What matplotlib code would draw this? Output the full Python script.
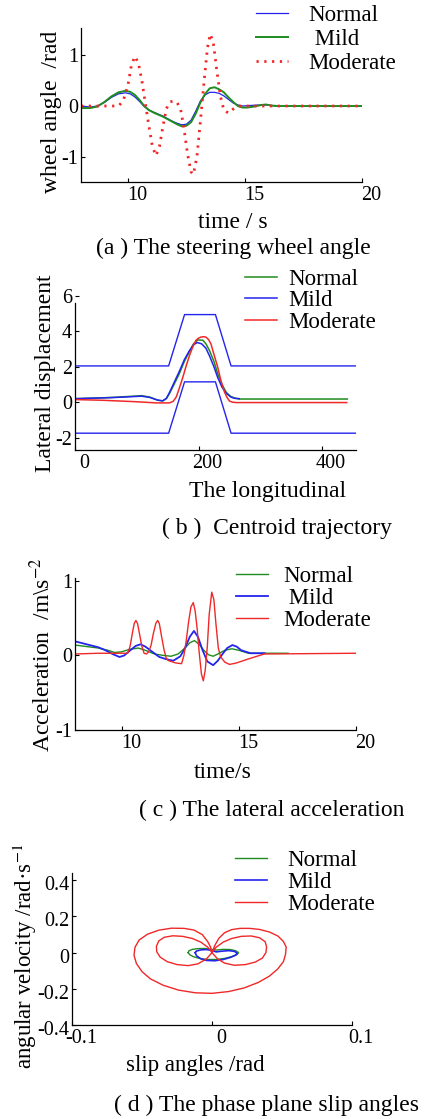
import matplotlib
matplotlib.use('Agg')
import matplotlib.pyplot as plt
from matplotlib.transforms import ScaledTranslation

# ---------------- data ----------------
# (a) steering wheel angle
a_t_normal = [8.0, 8.4, 8.7, 9.0, 9.3, 9.6, 9.9, 10.1, 10.3, 10.5, 10.7, 10.9, 11.1, 11.3, 11.5, 11.7,
              11.9, 12.1, 12.3, 12.5, 12.7, 12.9, 13.1, 13.3, 13.5, 13.7, 13.9, 14.1, 14.3, 14.5, 14.7,
              14.9, 15.2, 15.6, 16.0, 16.3]
a_normal = [0.0, -0.02, 0.0, 0.07, 0.17, 0.24, 0.26, 0.24, 0.18, 0.09, -0.01, -0.08, -0.12, -0.16, -0.2,
            -0.25, -0.3, -0.34, -0.37, -0.36, -0.28, -0.1, 0.1, 0.22, 0.27, 0.27, 0.25, 0.2, 0.13, 0.06,
            0.02, 0.0, 0.01, 0.02, 0.02, 0.0]
a_t_mild = [8.0, 8.4, 8.7, 9.0, 9.3, 9.6, 9.9, 10.1, 10.3, 10.5, 10.7, 10.9, 11.1, 11.3, 11.5, 11.7, 11.9,
            12.1, 12.3, 12.5, 12.7, 12.9, 13.1, 13.3, 13.5, 13.7, 13.9, 14.1, 14.3, 14.5, 14.7, 14.9, 15.1,
            15.4, 15.7, 15.9, 16.1, 16.4, 20.0]
a_mild = [-0.04, -0.04, -0.01, 0.08, 0.19, 0.27, 0.30, 0.28, 0.22, 0.12, 0.0, -0.08, -0.13, -0.17, -0.21,
          -0.26, -0.31, -0.36, -0.40, -0.39, -0.32, -0.15, 0.07, 0.24, 0.35, 0.37, 0.33, 0.27, 0.17, 0.08,
          0.0, -0.03, -0.03, -0.01, 0.02, 0.03, 0.01, 0.0, 0.0]
a_t_moderate = [8.0, 9.0, 9.6, 9.8, 10.0, 10.15, 10.3, 10.45, 10.6, 10.75, 10.9, 11.05, 11.2, 11.35, 11.5,
                11.65, 11.8, 11.95, 12.1, 12.25, 12.4, 12.55, 12.7, 12.8, 12.95, 13.1, 13.25, 13.4, 13.52,
                13.65, 13.8, 13.95, 14.1, 14.3, 14.5, 14.7, 20.0]
a_moderate = [0.0, 0.0, 0.0, 0.1, 0.4, 0.8, 0.98, 0.85, 0.5, 0.05, -0.4, -0.8, -0.98, -0.8, -0.4, -0.05,
              0.08, 0.1, 0.07, -0.05, -0.45, -0.95, -1.3, -1.35, -1.0, -0.3, 0.45, 1.15, 1.42, 1.25, 0.7,
              0.2, -0.08, -0.14, -0.06, 0.0, 0.0]

# (b) centroid trajectory
b_road_x = [0, 151.6, 177.4, 227.4, 252.7, 455]
b_road_upper = [2.05, 2.05, 4.95, 4.95, 2.05, 2.05]
b_road_lower = [-1.75, -1.75, 1.15, 1.15, -1.75, -1.75]
b_x_normal = [0, 30, 60, 90, 108, 121, 134, 142, 148, 153, 161, 169, 177, 185, 192, 199, 207, 212, 218,
              225, 231, 238, 245, 252, 258, 266, 441]
b_normal = [0.2, 0.23, 0.27, 0.33, 0.37, 0.29, 0.11, 0.07, 0.2, 0.49, 1.05, 1.62, 2.3, 2.84, 3.3, 3.52,
            3.5, 3.3, 2.9, 2.3, 1.62, 1.0, 0.55, 0.33, 0.24, 0.18, 0.18]
b_x_mild = [0, 60, 108, 121, 134, 142, 148, 153, 161, 169, 177, 185, 192, 198, 205, 212, 218, 225, 231,
            238, 245, 252, 258, 266]
b_mild = [0.2, 0.26, 0.34, 0.27, 0.12, 0.08, 0.22, 0.55, 1.15, 1.75, 2.4, 2.9, 3.25, 3.37, 3.3, 3.05,
          2.6, 2.0, 1.4, 0.85, 0.5, 0.3, 0.22, 0.2]
b_x_moderate = [0, 44, 97, 132, 153, 159, 164, 169, 174.7, 180, 185.5, 191, 196, 200, 204, 208, 212, 216,
                220, 225, 231, 236, 242, 246, 250, 255, 261, 440]
b_moderate = [0.15, 0.11, 0.03, -0.04, -0.04, 0.05, 0.3, 0.8, 1.42, 2.05, 2.65, 3.15, 3.5, 3.62, 3.68,
              3.7, 3.68, 3.55, 3.31, 2.7, 1.99, 1.25, 0.58, 0.28, 0.07, 0.0, -0.02, -0.02]

# (c) lateral acceleration
c_t_normal = [8.0, 8.5, 9.0, 9.4, 9.7, 10.0, 10.3, 10.7, 11.0, 11.4, 11.8, 12.1, 12.4, 12.7, 12.9, 13.1,
              13.3, 13.5, 13.7, 13.9, 14.1, 14.4, 14.7, 15.0, 15.4, 16.0, 17.1]
c_normal = [0.14, 0.12, 0.10, 0.07, 0.04, 0.05, 0.08, 0.10, 0.07, 0.02, 0.0, -0.01, 0.02, 0.1, 0.17, 0.2,
            0.15, 0.07, 0.01, -0.01, 0.02, 0.07, 0.09, 0.07, 0.03, 0.03, 0.03]
c_t_mild = [8.0, 8.5, 9.0, 9.3, 9.6, 9.9, 10.1, 10.4, 10.6, 10.8, 11.0, 11.3, 11.6, 11.9, 12.2, 12.5, 12.7,
            12.9, 13.08, 13.25, 13.45, 13.65, 13.9, 14.1, 14.3, 14.5, 14.72, 14.9, 15.1, 15.5, 16.1]
c_mild = [0.19, 0.15, 0.11, 0.07, 0.02, -0.02, 0.0, 0.08, 0.13, 0.15, 0.12, 0.05, -0.02, -0.05, -0.07,
          -0.01, 0.1, 0.25, 0.33, 0.25, 0.07, -0.08, -0.13, -0.07, 0.02, 0.1, 0.14, 0.12, 0.07, 0.03, 0.03]
c_t_moderate = [8.0, 9.0, 10.25, 10.35, 10.45, 10.53, 10.6, 10.67, 10.75, 10.85, 10.95, 11.05, 11.15, 11.25,
                11.35, 11.45, 11.53, 11.6, 11.7, 11.8, 11.9, 12.0, 12.3, 12.55, 12.65, 12.75, 12.85, 12.95,
                13.05, 13.13, 13.22, 13.3, 13.4, 13.48, 13.56, 13.65, 13.73, 13.84, 13.93, 14.02, 14.12,
                14.22, 14.4, 14.6, 14.9, 15.37, 16.08, 20.0]
c_moderate = [0.02, 0.03, 0.03, 0.12, 0.3, 0.43, 0.47, 0.43, 0.3, 0.13, 0.03, 0.02, 0.05, 0.14, 0.3, 0.43,
              0.47, 0.43, 0.25, 0.08, -0.04, -0.07, -0.1, -0.11, 0.0, 0.2, 0.45, 0.65, 0.71, 0.6, 0.35,
              0.05, -0.25, -0.34, -0.2, 0.12, 0.55, 0.85, 0.75, 0.42, 0.1, -0.02, -0.09, -0.12, -0.1,
              -0.05, 0.02, 0.03]

# (d) phase plane
d_slip_normal = [-0.017, -0.0165, -0.014, -0.01, -0.005, -0.001, 0.003, 0.008, 0.013, 0.017, 0.019,
                 0.018, 0.014, 0.009, 0.003, -0.003, -0.009, -0.0135, -0.016, -0.017]
d_rate_normal = [0.0, 0.01, 0.018, 0.022, 0.023, 0.018, 0.014, 0.018, 0.017, 0.01, 0.0,
                 -0.01, -0.022, -0.032, -0.038, -0.038, -0.032, -0.022, -0.011, 0.0]
d_slip_mild = [-0.012, -0.011, -0.008, -0.004, 0.0, 0.003, 0.007, 0.012, 0.016, 0.018, 0.017, 0.013,
               0.008, 0.002, -0.004, -0.008, -0.011, -0.012]
d_rate_mild = [0.0, 0.009, 0.015, 0.017, 0.012, 0.004, 0.008, 0.011, 0.007, -0.003, -0.014, -0.027,
               -0.038, -0.045, -0.043, -0.034, -0.018, 0.0]
d_slip_moderate = [0.0, 0.002, 0.005, 0.009, 0.014, 0.02, 0.027, 0.034, 0.041, 0.047, 0.051, 0.053,
                   0.0525, 0.051, 0.047, 0.041, 0.033, 0.023, 0.012, 0.0, -0.012, -0.024, -0.035,
                   -0.044, -0.05, -0.054, -0.0557, -0.055, -0.052, -0.046, -0.038, -0.029, -0.02,
                   -0.013, -0.007, -0.003, -0.001, 0.0,
                   -0.003, -0.008, -0.014, -0.021, -0.028, -0.034, -0.038, -0.0397, -0.0395, -0.037,
                   -0.032, -0.025, -0.017, -0.01, -0.004, 0.0,
                   0.003, 0.008, 0.014, 0.021, 0.028, 0.034, 0.038, 0.039, 0.0385, 0.036, 0.031,
                   0.024, 0.016, 0.009, 0.004, 0.0]
d_rate_moderate = [0.0, 0.04, 0.08, 0.11, 0.127, 0.134, 0.134, 0.128, 0.114, 0.092, 0.062, 0.03,
                   -0.01, -0.05, -0.09, -0.13, -0.165, -0.195, -0.215, -0.225, -0.222, -0.207, -0.18,
                   -0.145, -0.105, -0.06, -0.015, 0.03, 0.07, 0.102, 0.124, 0.135, 0.134,
                   0.125, 0.1, 0.06, 0.03, 0.0,
                   0.03, 0.058, 0.078, 0.09, 0.093, 0.085, 0.065, 0.035, 0.005, -0.025,
                   -0.05, -0.066, -0.072, -0.062, -0.035, 0.0,
                   0.03, 0.058, 0.078, 0.09, 0.092, 0.082, 0.06, 0.03, 0.0, -0.03, -0.052,
                   -0.066, -0.07, -0.058, -0.035, 0.0]

BLUE = '#2424ee'
GREEN = '#1e8c1e'
RED = '#f02828'

# ---------------- figure ----------------
W, H = 429, 1119
plt.rcParams['font.family'] = ['Liberation Serif', 'DejaVu Serif']
plt.rcParams['mathtext.fontset'] = 'stix'
plt.rcParams['axes.unicode_minus'] = False

fig = plt.figure(figsize=(W / 100, H / 100), dpi=100)


def add_ax(box):
    l, t, r, b = box
    return fig.add_axes([l / W, 1 - b / H, (r - l) / W, (b - t) / H])


def style(ax, xlim, ylim, xt, xtl, yt, ytl, xdx=9, ydy=0):
    ax.set_xlim(xlim)
    ax.set_ylim(ylim)
    ax.set_xticks(xt)
    ax.set_xticklabels(xtl)
    ax.set_yticks(yt)
    ax.set_yticklabels(ytl)
    for s in ['top', 'right']:
        ax.spines[s].set_visible(False)
    for s in ['left', 'bottom']:
        ax.spines[s].set_linewidth(0.9)
    ax.tick_params(direction='in', length=3, width=0.8, labelsize=14.5, pad=2)
    ax.tick_params(axis='x', pad=3)
    off = ScaledTranslation(xdx / 100, 0, fig.dpi_scale_trans)
    for lb in ax.get_xticklabels():
        lb.set_transform(lb.get_transform() + off)
    if ydy:
        offy = ScaledTranslation(0, -ydy / 100, fig.dpi_scale_trans)
        for lb in ax.get_yticklabels():
            lb.set_transform(lb.get_transform() + offy)
    ax.patch.set_alpha(0)


def labels(ax, box, xl, xc, yl, yc, size=17):
    l, t, r, b = box
    ax.set_xlabel(xl, fontsize=size)
    ax.xaxis.set_label_coords((xc[0] - l) / (r - l), (b - xc[1]) / (b - t))
    ax.xaxis.label.set_va('center')
    ax.set_ylabel(yl, fontsize=size)
    ax.yaxis.set_label_coords((yc[0] - l) / (r - l), (b - yc[1]) / (b - t))
    ax.yaxis.label.set_va('center')
    ax.yaxis.label.set_ha('center')


def legend(ax, handles, names, x, ytop, textpad, spacing):
    ax.legend(handles, names, loc='upper left', bbox_to_anchor=(x / W, 1 - ytop / H),
              bbox_transform=fig.transFigure, frameon=False, borderpad=0, borderaxespad=0,
              handlelength=1.4, handletextpad=textpad, labelspacing=spacing, fontsize=16.5)


def title(text, cx, cy):
    fig.text(cx / W, 1 - cy / H, text, ha='center', va='center', fontsize=17)


# (a)
box_a = (81, 28, 362, 182)
ax = add_ax(box_a)
la1, = ax.plot(a_t_normal, a_normal, color=BLUE, lw=0.9)
la2, = ax.plot(a_t_mild, a_mild, color=GREEN, lw=1.4)
la3, = ax.plot(a_t_moderate, a_moderate, color=RED, lw=2.0, ls=(0, (0.8, 2.0)))
style(ax, (8, 20), (-1.5, 1.54), [10, 15, 20], ['10', '15', '20'], [-1, 0, 1], ['-1', '0', '1'])
labels(ax, box_a, 'time / s', (233, 222), 'wheel angle  /rad', (52, 112))
legend(ax, [la1, la2, la3], ['Normal', ' Mild', 'Moderate'], 256, 5, 0.9, 0.13)
title('(a ) The steering wheel angle', 233, 248)

# (b)
box_b = (75, 296, 356, 450)
ax = add_ax(box_b)
ax.plot(b_road_x, b_road_upper, color=BLUE, lw=1.0)
ax.plot(b_road_x, b_road_lower, color=BLUE, lw=1.0)
lb1, = ax.plot(b_x_normal, b_normal, color=GREEN, lw=1.1)
lb2, = ax.plot(b_x_mild, b_mild, color=BLUE, lw=1.1)
lb3, = ax.plot(b_x_moderate, b_moderate, color=RED, lw=1.1)
style(ax, (0, 455), (-2.7, 6.0), [0, 200, 400], ['0', '200', '400'],
      [-2, 0, 2, 4, 6], ['-2', '0', '2', '4', '6'])
ax.spines['left'].set_bounds(-2.7, 5.6)
labels(ax, box_b, 'The longitudinal', (268, 492), 'Lateral displacement', (46, 373))
legend(ax, [lb1, lb2, lb3], ['Normal', 'Mild', 'Moderate'], 245, 268.5, 0.5, 0.02)
title('( b )  Centroid trajectory', 277, 528)

# (c)
box_c = (75, 578, 356, 730)
ax = add_ax(box_c)
lc1, = ax.plot(c_t_normal, c_normal, color=GREEN, lw=1.0)
lc2, = ax.plot(c_t_mild, c_mild, color=BLUE, lw=1.3)
lc3, = ax.plot(c_t_moderate, c_moderate, color=RED, lw=1.0)
style(ax, (8, 20), (-1.0, 1.04), [10, 15, 20], ['10', '15', '20'], [-1, 0, 1], ['-1', '0', '1'])
labels(ax, box_c, 'time/s', (223, 772), 'Acceleration  /m\\s$^{-2}$', (42, 655))
legend(ax, [lc1, lc2, lc3], ['Normal', ' Mild', 'Moderate'], 236, 566, 0.65, 0.04)
title('( c ) The lateral acceleration', 272, 810)

# (d)
box_d = (72, 873, 352, 1025)
ax = add_ax(box_d)
ld1, = ax.plot(d_slip_normal, d_rate_normal, color=GREEN, lw=1.0)
ld2, = ax.plot(d_slip_mild, d_rate_mild, color=BLUE, lw=1.2)
ld3, = ax.plot(d_slip_moderate, d_rate_moderate, color=RED, lw=1.0)
style(ax, (-0.1, 0.1), (-0.4, 0.44), [-0.1, 0, 0.1], ['-0.1', '0', '0.1'],
      [-0.4, -0.2, 0, 0.2, 0.4], ['-0.4', '-0.2', '0', '0.2', '0.4'], ydy=3)
labels(ax, box_d, 'slip angles /rad', (195, 1065), 'angular velocity /rad·s$^{-1}$', (25, 956),
       size=16.5)
legend(ax, [ld1, ld2, ld3], ['Normal', 'Mild', 'Moderate'], 235, 850, 0.87, 0.05)
title('( d ) The phase plane slip angles', 267, 1105)

fig.savefig('out.png', dpi=100, facecolor='white')
